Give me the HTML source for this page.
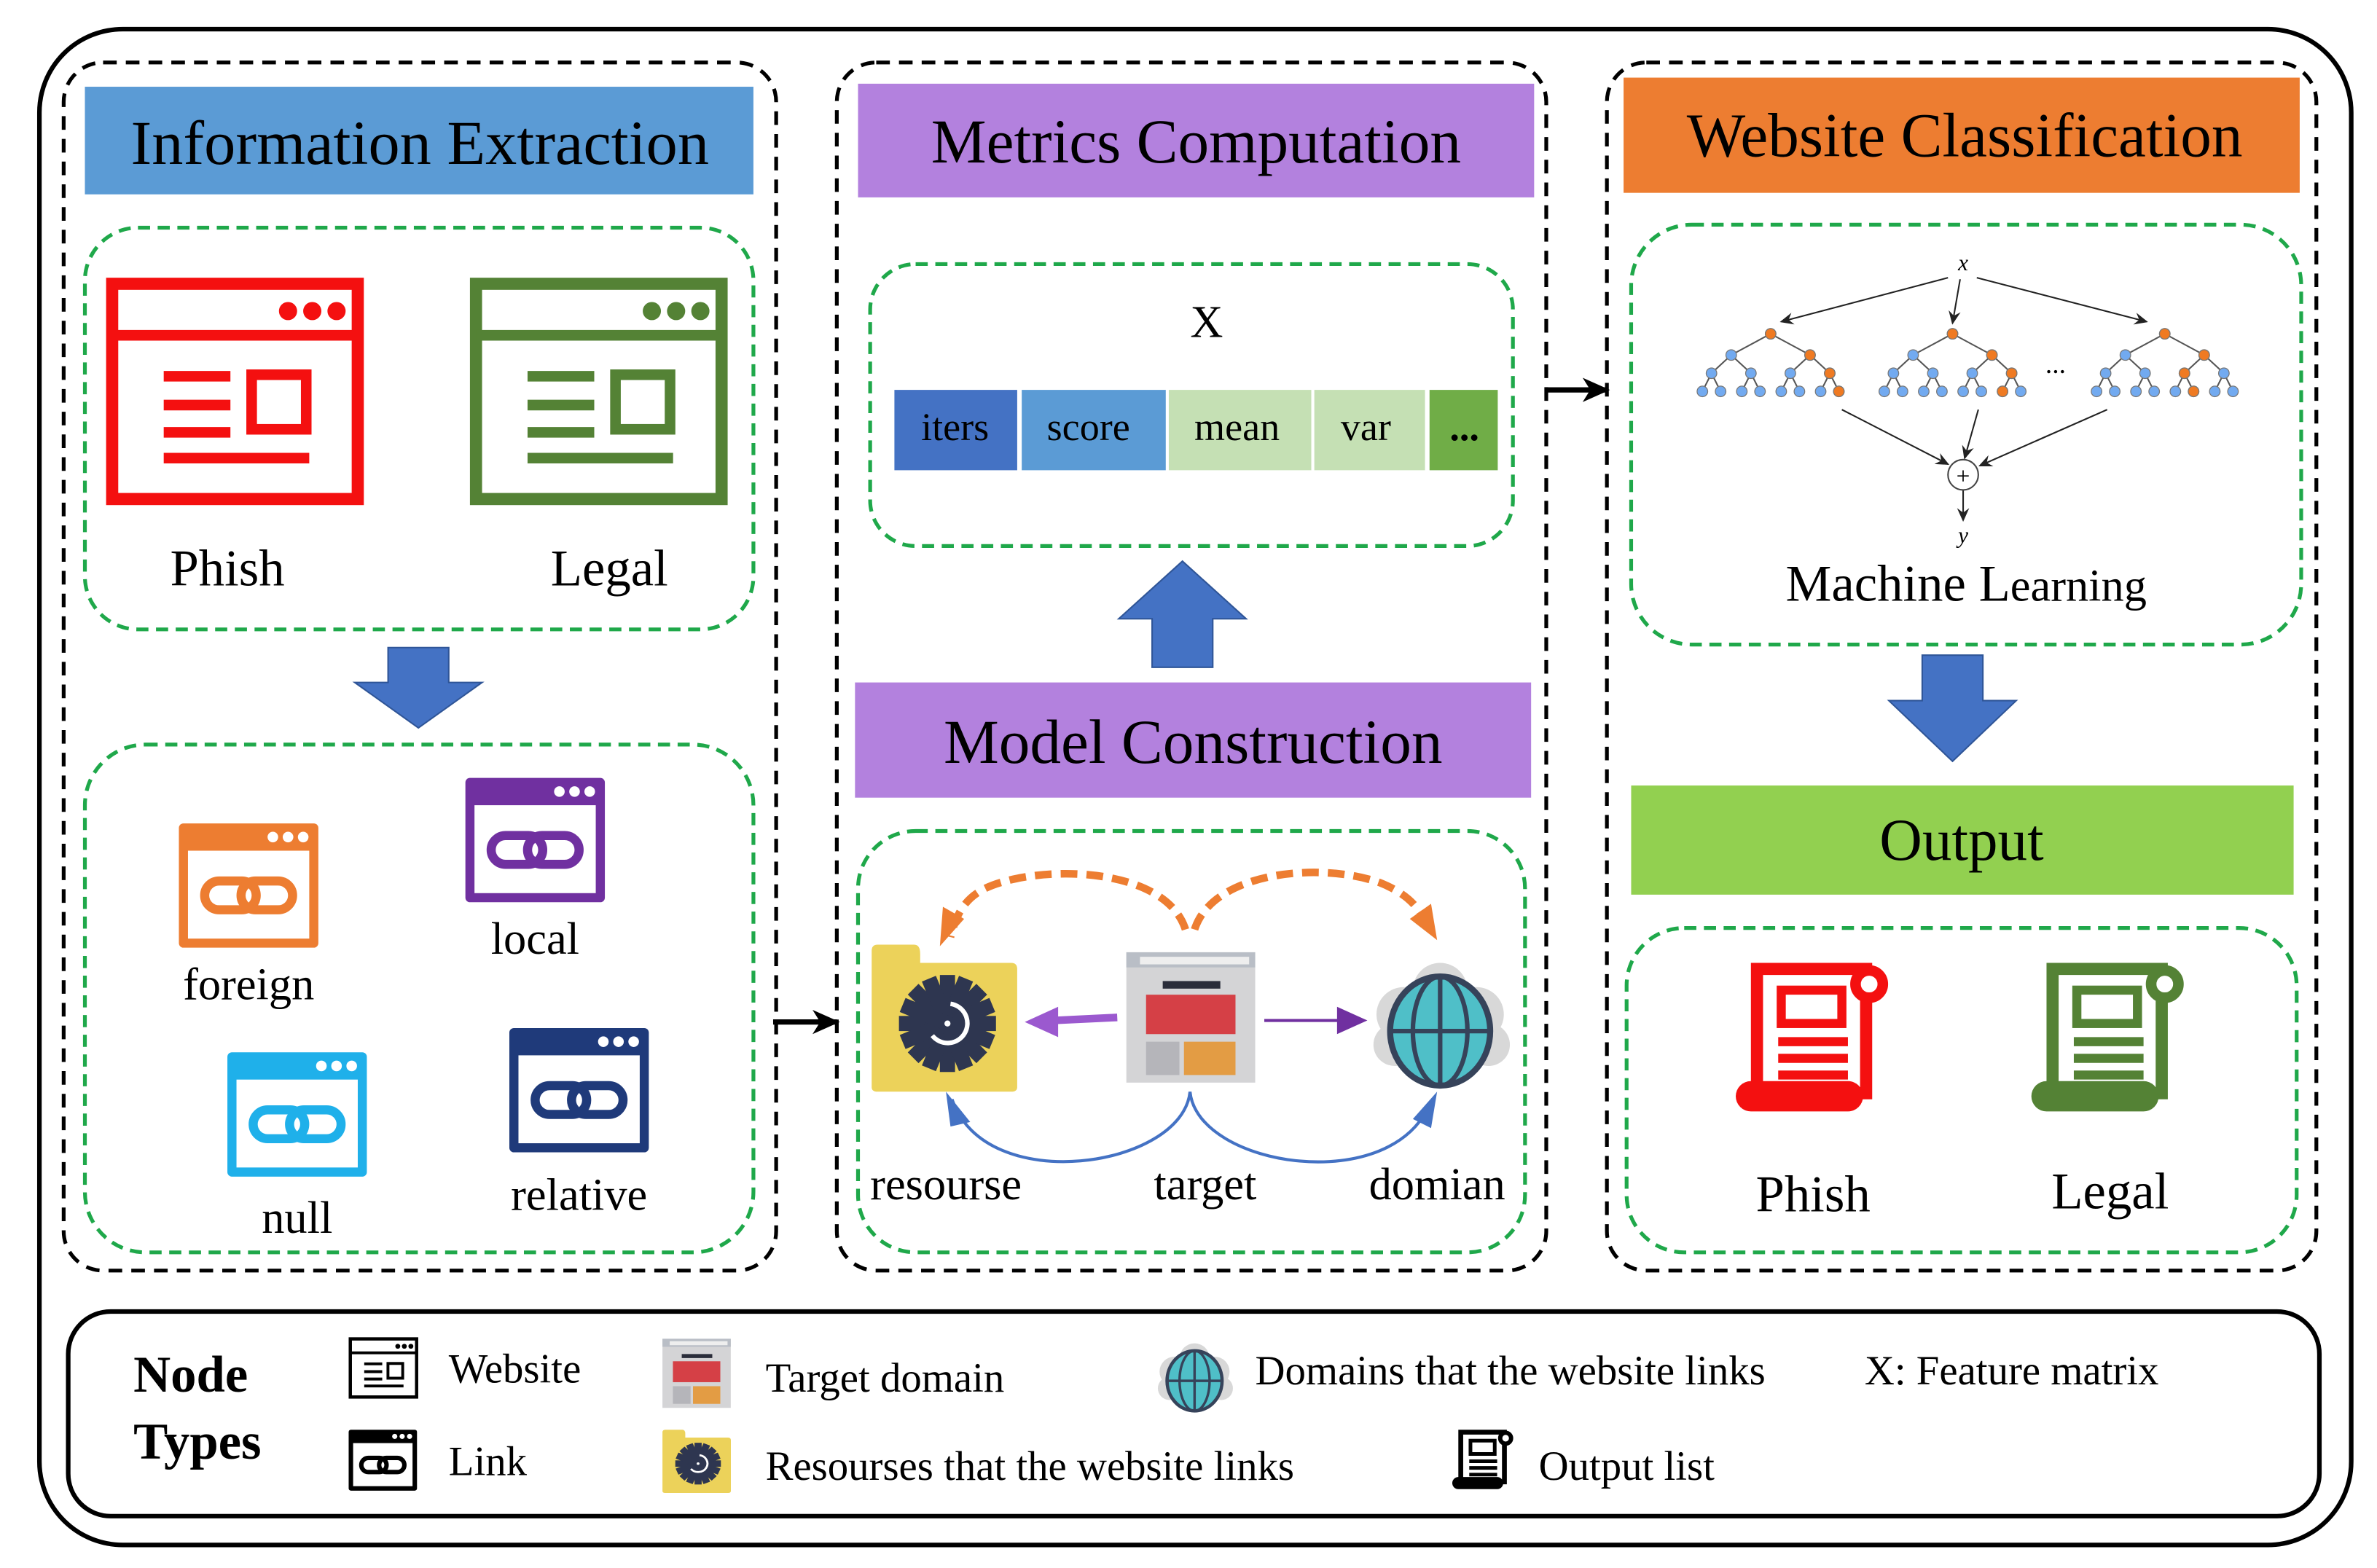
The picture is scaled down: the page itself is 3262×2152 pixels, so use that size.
<!DOCTYPE html>
<html><head><meta charset="utf-8"><style>
html,body{margin:0;padding:0;background:#fff;}
svg{display:block;}
text{font-family:"Liberation Serif",serif;}
</style></head><body>
<svg width="3262" height="2152" viewBox="0 0 1568 1034" xmlns="http://www.w3.org/2000/svg">
<defs>
<marker id="ah" markerWidth="10" markerHeight="10" refX="8" refY="5" orient="auto" markerUnits="userSpaceOnUse"><path d="M0,1 L9,5 L0,9 L3,5 Z" fill="#222"/></marker>
<marker id="ahb" markerWidth="20" markerHeight="20" refX="16" refY="10" orient="auto" markerUnits="userSpaceOnUse"><path d="M0,2 L18,10 L0,18 L5,10 Z" fill="#000"/></marker>
<g id="web">
<rect x="4" y="4" width="162" height="142" fill="#fff" stroke="currentColor" stroke-width="8"/>
<line x1="4" y1="38" x2="166" y2="38" stroke="currentColor" stroke-width="7"/>
<circle cx="120" cy="22" r="6" fill="currentColor"/><circle cx="136" cy="22" r="6" fill="currentColor"/><circle cx="152" cy="22" r="6" fill="currentColor"/>
<g stroke="currentColor" stroke-width="7" fill="none">
<line x1="38" y1="65" x2="82" y2="65"/><line x1="38" y1="84" x2="82" y2="84"/><line x1="38" y1="102" x2="82" y2="102"/><line x1="38" y1="119" x2="134" y2="119"/>
<rect x="96" y="64" width="36" height="36"/></g>
</g>
<g id="link">
<rect x="0" y="0" width="92" height="82" rx="3" fill="currentColor"/>
<rect x="6" y="18" width="80" height="58" fill="#fff"/>
<circle cx="62" cy="9" r="3.5" fill="#fff"/><circle cx="72" cy="9" r="3.5" fill="#fff"/><circle cx="82" cy="9" r="3.5" fill="#fff"/>
<rect x="17" y="38" width="34" height="19" rx="9.5" fill="none" stroke="currentColor" stroke-width="6"/>
<rect x="41" y="38" width="34" height="19" rx="9.5" fill="none" stroke="currentColor" stroke-width="6"/>
</g>
<g id="scroll">
<rect x="14" y="4" width="72" height="82" fill="#fff" stroke="currentColor" stroke-width="8"/>
<circle cx="88" cy="14" r="9" fill="#fff" stroke="currentColor" stroke-width="7"/>
<rect x="0" y="78" width="84" height="20" rx="10" fill="currentColor"/>
<rect x="30" y="18" width="40" height="22" fill="none" stroke="currentColor" stroke-width="6"/>
<g stroke="currentColor" stroke-width="6"><line x1="28" y1="52" x2="74" y2="52"/><line x1="28" y1="63" x2="74" y2="63"/><line x1="28" y1="74" x2="74" y2="74"/></g>
</g>
<g id="tree" stroke="#555" stroke-width="1">
<line x1="0" y1="0" x2="-26" y2="14"/><line x1="0" y1="0" x2="26" y2="14"/>
<line x1="-26" y1="14" x2="-39" y2="26"/><line x1="-26" y1="14" x2="-13" y2="26"/><line x1="26" y1="14" x2="13" y2="26"/><line x1="26" y1="14" x2="39" y2="26"/>
<line x1="-39" y1="26" x2="-45" y2="38"/><line x1="-39" y1="26" x2="-33" y2="38"/><line x1="-13" y1="26" x2="-19" y2="38"/><line x1="-13" y1="26" x2="-7" y2="38"/>
<line x1="13" y1="26" x2="7" y2="38"/><line x1="13" y1="26" x2="19" y2="38"/><line x1="39" y1="26" x2="33" y2="38"/><line x1="39" y1="26" x2="45" y2="38"/>
<g fill="#72aaf0" stroke="#777" stroke-width="0.6">
<circle cx="0" cy="0" r="3.5"/><circle cx="-26" cy="14" r="3.5"/><circle cx="26" cy="14" r="3.5"/>
<circle cx="-39" cy="26" r="3.5"/><circle cx="-13" cy="26" r="3.5"/><circle cx="13" cy="26" r="3.5"/><circle cx="39" cy="26" r="3.5"/>
<circle cx="-45" cy="38" r="3.5"/><circle cx="-33" cy="38" r="3.5"/><circle cx="-19" cy="38" r="3.5"/><circle cx="-7" cy="38" r="3.5"/>
<circle cx="7" cy="38" r="3.5"/><circle cx="19" cy="38" r="3.5"/><circle cx="33" cy="38" r="3.5"/><circle cx="45" cy="38" r="3.5"/></g>
</g>
<g id="target">
<rect x="0" y="0" width="85" height="86" fill="#d4d4d6"/>
<rect x="0" y="0" width="85" height="10" fill="#b9bec6"/>
<rect x="9" y="3" width="72" height="5" fill="#eeeeee"/>
<rect x="24" y="19" width="38" height="5" fill="#2a2d3a"/>
<rect x="13" y="28" width="59" height="26" fill="#d54046"/>
<rect x="13" y="59" width="22" height="22" fill="#b5b5ba"/>
<rect x="38" y="59" width="34" height="22" fill="#e39c44"/>
</g>
<g id="folder">
<path d="M0,4 Q0,0 4,0 L28,0 Q32,0 32,6 L32,12 L92,12 Q96,12 96,16 L96,94 Q96,97 92,97 L4,97 Q0,97 0,94 Z" fill="#ecd25a"/>
<g transform="translate(50,52)">
<circle r="24" fill="#2e3650"/>
<g fill="#2e3650">
<rect x="-5" y="-32" width="10" height="64"/><rect x="-32" y="-5" width="64" height="10"/>
<rect x="-5" y="-32" width="10" height="64" transform="rotate(45)"/><rect x="-5" y="-32" width="10" height="64" transform="rotate(-45)"/>
<rect x="-5" y="-32" width="10" height="64" transform="rotate(22.5)"/><rect x="-5" y="-32" width="10" height="64" transform="rotate(-22.5)"/>
<rect x="-5" y="-32" width="10" height="64" transform="rotate(67.5)"/><rect x="-5" y="-32" width="10" height="64" transform="rotate(-67.5)"/>
</g>
<path d="M2,-13 A13,13 0 1 1 -10,8" fill="none" stroke="#fff" stroke-width="3"/>
<circle r="2" fill="#fff"/>
</g>
</g>
<g id="globe">
<g fill="#d8d8d8"><circle cx="0" cy="-22" r="18"/><circle cx="-24" cy="-6" r="18"/><circle cx="24" cy="-6" r="18"/><circle cx="-30" cy="14" r="14"/><circle cx="32" cy="14" r="14"/></g>
<ellipse cx="0" cy="5" rx="33" ry="36" fill="#4fbfc8" stroke="#36435a" stroke-width="4"/>
<g fill="none" stroke="#36435a" stroke-width="3">
<ellipse cx="0" cy="5" rx="18" ry="36"/><line x1="0" y1="-31" x2="0" y2="41"/><line x1="-33" y1="5" x2="33" y2="5"/></g>
</g>
</defs>

<rect x="26" y="19" width="1525" height="1000" rx="55" fill="#fff" stroke="#000" stroke-width="3"/>
<g fill="none" stroke="#000" stroke-width="2.5" stroke-dasharray="9,6">
<rect x="42" y="41" width="470" height="797" rx="26"/>
<rect x="552" y="41" width="468" height="797" rx="26"/>
<rect x="1060" y="41" width="468" height="797" rx="26"/>
</g>
<rect x="45" y="865" width="1485" height="135" rx="28" fill="none" stroke="#000" stroke-width="3"/>

<rect x="56" y="57" width="441" height="71" fill="#5b9bd5"/>
<text x="277" y="108" font-size="41.5" text-anchor="middle">Information Extraction</text>
<g fill="none" stroke="#1fa84a" stroke-width="2.5" stroke-dasharray="8,5">
<rect x="56" y="150" width="441" height="265" rx="35"/>
<rect x="56" y="491" width="441" height="335" rx="40"/>
<rect x="574" y="174" width="424" height="186" rx="30"/>
<rect x="566" y="548" width="440" height="278" rx="38"/>
<rect x="1076" y="148" width="442" height="277" rx="40"/>
<rect x="1073" y="612" width="442" height="214" rx="38"/>
</g>
<use href="#web" x="70" y="183" style="color:#f41010"/>
<use href="#web" x="310" y="183" style="color:#548235"/>
<text x="150" y="386" font-size="34" text-anchor="middle">Phish</text>
<text x="402" y="386" font-size="34" text-anchor="middle">Legal</text>
<path d="M256,427 L296,427 L296,450 L318,450 L276,480 L234,450 L256,450 Z" fill="#4472c4" stroke="#2f5597" stroke-width="1"/>
<use href="#link" x="118" y="543" style="color:#ed7d31"/>
<use href="#link" x="307" y="513" style="color:#7030a0"/>
<use href="#link" x="150" y="694" style="color:#1fb0ea"/>
<use href="#link" x="336" y="678" style="color:#1f3a7a"/>
<text x="164" y="659" font-size="30" text-anchor="middle">foreign</text>
<text x="353" y="629" font-size="30" text-anchor="middle">local</text>
<text x="196" y="813" font-size="30" text-anchor="middle">null</text>
<text x="382" y="798" font-size="30" text-anchor="middle">relative</text>

<line x1="510" y1="674" x2="552" y2="674" stroke="#000" stroke-width="3.5" marker-end="url(#ahb)"/>
<line x1="1020" y1="257" x2="1060" y2="257" stroke="#000" stroke-width="3.5" marker-end="url(#ahb)"/>

<rect x="566" y="55" width="446" height="75" fill="#b381de"/>
<text x="789" y="107" font-size="41" text-anchor="middle">Metrics Computation</text>
<text x="796" y="222" font-size="30" text-anchor="middle">X</text>
<rect x="590" y="257" width="81" height="53" fill="#4472c4"/>
<rect x="674" y="257" width="95" height="53" fill="#5b9bd5"/>
<rect x="771" y="257" width="94" height="53" fill="#c5e0b4"/>
<rect x="867" y="257" width="73" height="53" fill="#c5e0b4"/>
<rect x="943" y="257" width="45" height="53" fill="#70ad47"/>
<g font-size="26" text-anchor="middle">
<text x="630" y="290">iters</text><text x="718" y="290">score</text><text x="816" y="290">mean</text><text x="901" y="290">var</text><text x="966" y="290" font-weight="bold">...</text></g>
<path d="M760,440 L800,440 L800,408 L822,408 L780,370 L738,408 L760,408 Z" fill="#4472c4" stroke="#2f5597" stroke-width="1"/>
<rect x="564" y="450" width="446" height="76" fill="#b381de"/>
<text x="787" y="503" font-size="41" text-anchor="middle">Model Construction</text>
<use href="#folder" x="575" y="623"/>
<use href="#target" x="743" y="628"/>
<use href="#globe" x="950" y="675"/>
<path d="M782,613 C770,575 700,570 660,582 C640,588 632,598 627,618" fill="none" stroke="#ed7d31" stroke-width="5" stroke-dasharray="11,6"/>
<path d="M620,624 L622,598 L636,606 Z" fill="#ed7d31"/>
<path d="M788,613 C800,575 870,568 910,582 C930,590 938,600 942,614" fill="none" stroke="#ed7d31" stroke-width="5" stroke-dasharray="11,6"/>
<path d="M948,620 L930,606 L944,596 Z" fill="#ed7d31"/>
<path d="M737,671 L695,673" stroke="#9b59cf" stroke-width="5"/>
<path d="M676,674 L698,664 L698,684 Z" fill="#9b59cf"/>
<path d="M834,673 L885,673" stroke="#7030a0" stroke-width="2"/>
<path d="M902,673 L882,664 L882,682 Z" fill="#7030a0"/>
<path d="M785,720 C780,770 650,790 628,725" fill="none" stroke="#4472c4" stroke-width="2"/>
<path d="M624,720 L640,740 L627,743 Z" fill="#4472c4"/>
<path d="M785,720 C790,770 920,790 944,726" fill="none" stroke="#4472c4" stroke-width="2"/>
<path d="M948,720 L944,744 L932,738 Z" fill="#4472c4"/>
<g font-size="30" text-anchor="middle"><text x="624" y="791">resourse</text><text x="795" y="791">target</text><text x="948" y="791">domian</text></g>

<rect x="1071" y="51" width="446" height="76" fill="#ed7d31"/>
<text x="1296" y="103" font-size="41" text-anchor="middle">Website Classification</text>
<text x="1295" y="178" font-size="15" font-style="italic" text-anchor="middle">x</text>
<g stroke="#222" stroke-width="1" fill="none">
<line x1="1285" y1="183" x2="1175" y2="212" marker-end="url(#ah)"/>
<line x1="1293" y1="184" x2="1288" y2="213" marker-end="url(#ah)"/>
<line x1="1304" y1="183" x2="1416" y2="212" marker-end="url(#ah)"/>
<line x1="1215" y1="270" x2="1285" y2="306" marker-end="url(#ah)"/>
<line x1="1305" y1="270" x2="1296" y2="302" marker-end="url(#ah)"/>
<line x1="1390" y1="270" x2="1306" y2="307" marker-end="url(#ah)"/>
<line x1="1295" y1="323" x2="1295" y2="343" marker-end="url(#ah)"/>
</g>
<use href="#tree" x="1168" y="220"/>
<use href="#tree" x="1288" y="220"/>
<use href="#tree" x="1428" y="220"/>
<g fill="#ef7a22" stroke="#777" stroke-width="0.6">
<circle cx="1168" cy="220" r="3.5"/><circle cx="1194" cy="234" r="3.5"/><circle cx="1207" cy="246" r="3.5"/><circle cx="1213" cy="258" r="3.5"/>
<circle cx="1288" cy="220" r="3.5"/><circle cx="1314" cy="234" r="3.5"/><circle cx="1327" cy="246" r="3.5"/><circle cx="1321" cy="258" r="3.5"/>
<circle cx="1428" cy="220" r="3.5"/><circle cx="1454" cy="234" r="3.5"/><circle cx="1441" cy="246" r="3.5"/><circle cx="1447" cy="258" r="3.5"/>
</g>
<text x="1356" y="246" font-size="18" text-anchor="middle">...</text>
<circle cx="1295" cy="313" r="10" fill="#fff" stroke="#444" stroke-width="1"/>
<text x="1295" y="319" font-size="16" text-anchor="middle">+</text>
<text x="1295" y="358" font-size="15" font-style="italic" text-anchor="middle">y</text>
<text x="1297" y="396" font-size="34" text-anchor="middle">Machine L<tspan font-size="30">earning</tspan></text>
<path d="M1268,432 L1308,432 L1308,462 L1330,462 L1288,502 L1246,462 L1268,462 Z" fill="#4472c4" stroke="#2f5597" stroke-width="1"/>
<rect x="1076" y="518" width="437" height="72" fill="#92d050"/>
<text x="1294" y="567" font-size="39" text-anchor="middle">Output</text>
<use href="#scroll" x="1145" y="635" style="color:#f41010"/>
<use href="#scroll" x="1340" y="635" style="color:#548235"/>
<text x="1196" y="799" font-size="34" text-anchor="middle">Phish</text>
<text x="1392" y="797" font-size="34" text-anchor="middle">Legal</text>

<text x="88" y="918" font-size="34" font-weight="bold">Node</text>
<text x="88" y="962" font-size="34" font-weight="bold">Types</text>
<use href="#web" transform="translate(230,882) scale(0.27)" style="color:#000"/>
<use href="#link" transform="translate(230,943) scale(0.49)" style="color:#000"/>
<g transform="translate(437,883) scale(0.53)"><use href="#target"/></g>
<g transform="translate(437,943) scale(0.47,0.43)"><use href="#folder"/></g>
<g transform="translate(788,908) scale(0.55)"><use href="#globe"/></g>
<use href="#scroll" transform="translate(958,943) scale(0.4)" style="color:#000"/>
<g font-size="27.3">
<text x="296" y="912">Website</text>
<text x="296" y="973">Link</text>
<text x="505" y="918">Target domain</text>
<text x="505" y="976">Resourses that the website links</text>
<text x="828" y="913">Domains that the website links</text>
<text x="1015" y="976">Output list</text>
<text x="1230" y="913">X: Feature matrix</text>
</g>
</svg>
</body></html>
